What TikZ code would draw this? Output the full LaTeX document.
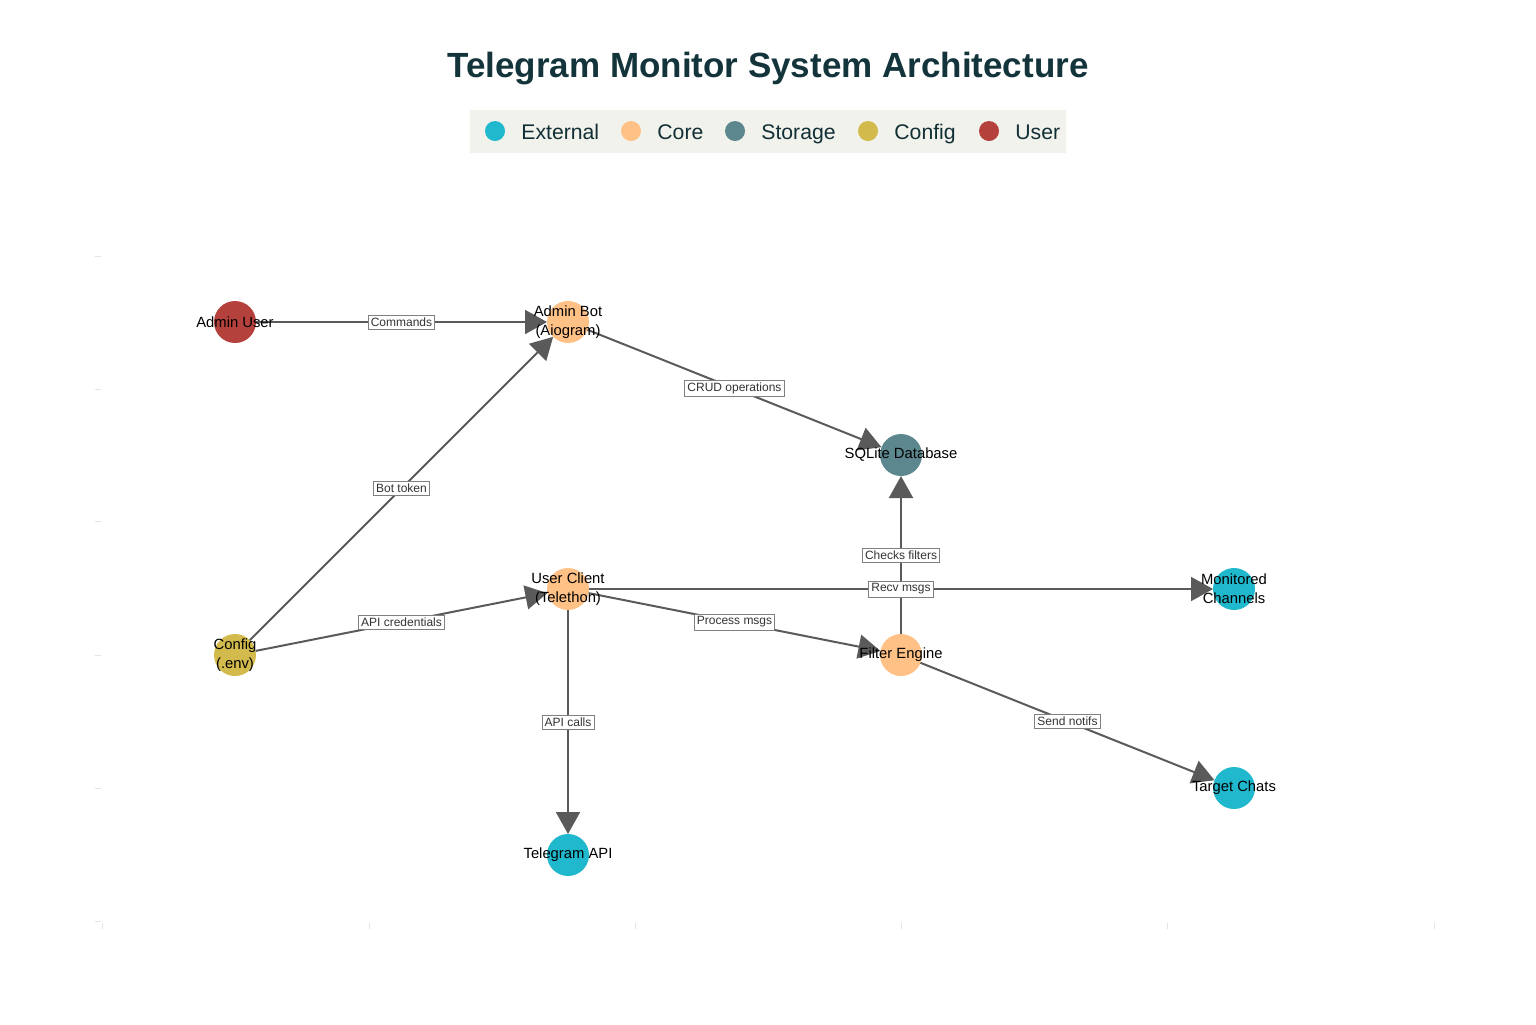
\documentclass[tikz,border=0pt]{standalone}
\usepackage{fontspec}
\setmainfont{Liberation Sans}
\usetikzlibrary{arrows.meta}
\definecolor{cext}{HTML}{1FB8CD}
\definecolor{ccore}{HTML}{FFC185}
\definecolor{cstor}{HTML}{5D878F}
\definecolor{cconf}{HTML}{D2BA4C}
\definecolor{cuser}{HTML}{B4413C}
\definecolor{linegray}{HTML}{5A5A5A}
\definecolor{titlecol}{HTML}{13343B}
\definecolor{legbg}{HTML}{F2F2EC}
\definecolor{tickgray}{HTML}{E4E4E4}
\begin{document}
\begin{tikzpicture}[x=0.5pt,y=-0.5pt,
  nd/.style={circle, minimum size=21pt, inner sep=0pt, outer sep=0pt},
  nlab/.style={font=\fontsize{7.4}{9.5}\selectfont, align=center, text=black, inner sep=0pt},
  conn/.style={draw=linegray, line width=1pt, -{Triangle[length=11pt,width=12pt]}},
  elab/.style={fill=white, draw=gray, line width=0.4pt, font=\fontsize{6}{7}\selectfont, inner sep=1.3pt, text=black!80},
  legdot/.style={circle, minimum size=10pt, inner sep=0pt},
  legtxt/.style={anchor=base west, font=\fontsize{10.6}{13}\selectfont, text=titlecol!90!black, inner sep=0pt},
]
\useasboundingbox (0,0) rectangle (1536,1024);
% faint axis ticks
\foreach \yy in {256,389,521,655,788,921} \draw[tickgray, line width=0.4pt] (95,\yy) -- (101,\yy);
\foreach \xx in {102,369,635,901,1167,1434} \draw[tickgray, line width=0.4pt] (\xx,923) -- (\xx,929);

% title
\node[font=\bfseries\fontsize{17.5}{22}\selectfont, text=titlecol, anchor=base, inner sep=0pt] (title) at (768,77) {Telegram Monitor System Architecture};

% legend
\node[fill=legbg, minimum width=298pt, minimum height=21.5pt, inner sep=0pt] (legend) at (768,131.5) {};
\node[legdot, fill=cext] (l1) at (495,131) {};
\node[legtxt] (t1) at (521,139) {External};
\node[legdot, fill=ccore] (l2) at (631,131) {};
\node[legtxt] (t2) at (657,139) {Core};
\node[legdot, fill=cstor] (l3) at (735,131) {};
\node[legtxt] (t3) at (761,139) {Storage};
\node[legdot, fill=cconf] (l4) at (868,131) {};
\node[legtxt] (t4) at (894,139) {Config};
\node[legdot, fill=cuser] (l5) at (989,131) {};
\node[legtxt] (t5) at (1015,139) {User};

% nodes
\node[nd, fill=cuser] (admin) at (235,322) {};
\node[nd, fill=ccore] (bot) at (568,322) {};
\node[nd, fill=cstor] (db) at (901,455) {};
\node[nd, fill=ccore] (client) at (568,589) {};
\node[nd, fill=cext] (chan) at (1234,589) {};
\node[nd, fill=cconf] (conf) at (235,655) {};
\node[nd, fill=ccore] (filt) at (901,655) {};
\node[nd, fill=cext] (target) at (1234,788) {};
\node[nd, fill=cext] (api) at (568,855) {};

% connectors
\draw[conn] (admin) -- node[elab] (e1) {Commands} (bot);
\draw[conn] (conf) -- node[elab] (e2) {Bot token} (bot);
\draw[conn] (bot) -- node[elab] (e3) {CRUD operations} (db);
\draw[conn] (conf) -- node[elab] (e4) {API credentials} (client);
\draw[conn] (client) -- node[elab] (e5) {Process msgs} (filt);
\draw[conn] (client) -- node[elab] (e6) {API calls} (api);
\draw[conn] (filt) -- node[elab] (e7) {Checks filters} (db);
\draw[conn] (client) -- node[elab] (e8) {Recv msgs} (chan);
\draw[conn] (filt) -- node[elab] (e9) {Send notifs} (target);

% node labels
\node[nlab] (ladmin) at (admin.center) {Admin User};
\node[nlab] (lbot) at (bot.center) {Admin Bot\\(Aiogram)};
\node[nlab] (ldb) at (db.center) {SQLite Database};
\node[nlab] (lclient) at (client.center) {User Client\\(Telethon)};
\node[nlab] (lchan) at (chan.center) {Monitored\\Channels};
\node[nlab] (lconf) at (conf.center) {Config\\(.env)};
\node[nlab] (lfilt) at (filt.center) {Filter Engine};
\node[nlab] (ltarget) at (target.center) {Target Chats};
\node[nlab] (lapi) at (api.center) {Telegram API};
\end{tikzpicture}
\end{document}
